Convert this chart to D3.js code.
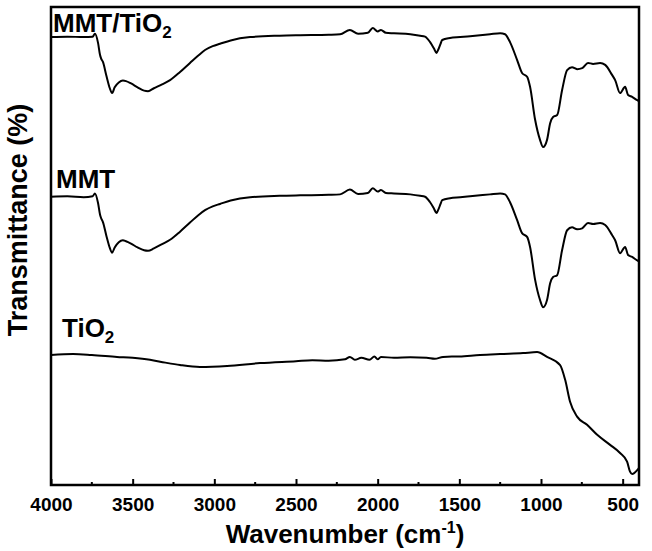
<!DOCTYPE html>
<html>
<head>
<meta charset="utf-8">
<script src="https://cdn.jsdelivr.net/npm/d3@7"></script>
<style>
  body { margin: 0; background: #fff; }
  svg text { font-family: "Liberation Sans", Arial, sans-serif; font-weight: bold; fill: #000; }
</style>
</head>
<body>
<div id="graph"></div>
<script>
// Spectres IR : nombre d'onde (cm-1) et transmittance (unités arbitraires)
var onde_mmt_tio2 = [4000, 3900, 3800, 3745, 3731, 3712, 3700, 3694, 3682, 3660, 3640, 3626, 3610, 3585, 3560, 3541, 3510, 3470, 3430, 3406, 3370, 3320, 3271, 3210, 3149, 3100, 3057, 3010, 2965, 2900, 2781, 2600, 2475, 2300, 2230, 2170, 2120, 2060, 2030, 2000, 1980, 1950, 1900, 1800, 1740, 1710, 1680, 1655, 1640, 1630, 1615, 1605, 1557, 1495, 1434, 1373, 1312, 1250, 1220, 1189, 1146, 1116, 1085, 1067, 1036, 1006, 987, 963, 944, 926, 901, 871, 840, 810, 779, 748, 712, 681, 638, 607, 565, 546, 516, 485, 467, 442, 411, 400];
var trans_mmt_tio2 = [93.7, 93.8, 93.7, 93.8, 94.4, 92.5, 90.0, 89.3, 88.5, 85.5, 83.0, 82.0, 83.2, 84.2, 84.6, 84.5, 84.0, 83.2, 82.5, 82.4, 83.0, 83.8, 84.7, 86.4, 88.3, 89.8, 91.0, 91.8, 92.3, 93.0, 93.7, 94.0, 94.1, 94.2, 94.3, 95.2, 94.4, 94.6, 95.6, 94.9, 95.2, 94.6, 94.5, 94.3, 94.0, 93.8, 92.7, 91.3, 90.4, 91.0, 92.3, 93.1, 93.5, 93.7, 93.9, 94.1, 94.3, 94.5, 94.3, 92.6, 88.9, 86.2, 85.4, 83.3, 76.4, 72.2, 70.7, 72.2, 75.7, 77.0, 77.4, 82.6, 86.8, 87.4, 87.0, 87.2, 88.3, 88.1, 88.3, 87.9, 85.8, 84.7, 82.0, 83.3, 81.6, 81.2, 80.5, 80.3];

var onde_mmt = [4000, 3900, 3800, 3745, 3731, 3712, 3700, 3694, 3682, 3660, 3640, 3626, 3610, 3585, 3560, 3541, 3510, 3470, 3430, 3406, 3370, 3320, 3271, 3210, 3149, 3100, 3057, 3010, 2965, 2900, 2781, 2600, 2475, 2300, 2230, 2170, 2120, 2060, 2030, 2000, 1980, 1950, 1900, 1800, 1740, 1710, 1680, 1655, 1640, 1630, 1615, 1605, 1557, 1495, 1434, 1373, 1312, 1250, 1220, 1189, 1146, 1116, 1085, 1067, 1036, 1006, 987, 963, 944, 926, 901, 871, 840, 810, 779, 748, 712, 681, 638, 607, 565, 546, 516, 485, 467, 442, 411, 400];
var trans_mmt = [60.3, 60.4, 60.2, 60.4, 61.0, 59.0, 56.6, 55.9, 55.0, 52.0, 49.6, 48.6, 49.7, 50.8, 51.2, 51.0, 50.5, 49.7, 49.1, 49.0, 49.5, 50.4, 51.3, 53.0, 54.9, 56.4, 57.5, 58.3, 58.8, 59.5, 60.2, 60.5, 60.6, 60.7, 60.8, 61.8, 60.9, 61.1, 62.1, 61.4, 61.7, 61.1, 61.0, 60.8, 60.5, 60.3, 59.2, 57.8, 56.9, 57.5, 58.8, 59.6, 60.0, 60.2, 60.4, 60.6, 60.8, 61.0, 60.8, 59.1, 55.4, 52.7, 51.9, 49.8, 42.9, 38.7, 37.2, 38.7, 42.2, 43.5, 43.9, 49.1, 53.3, 53.9, 53.5, 53.7, 54.8, 54.6, 54.8, 54.4, 52.3, 51.2, 48.5, 49.8, 48.1, 47.7, 47.0, 46.8];

var onde_tio2 = [4000, 3865, 3750, 3596, 3500, 3394, 3300, 3210, 3088, 2922, 2720, 2500, 2400, 2300, 2200, 2170, 2140, 2100, 2050, 2020, 2000, 1980, 1900, 1800, 1700, 1650, 1600, 1500, 1373, 1250, 1110, 1024, 963, 883, 852, 822, 779, 718, 656, 577, 516, 473, 455, 442, 411, 400];
var trans_tio2 = [27.2, 27.4, 27.2, 26.8, 26.6, 26.2, 25.6, 25.1, 24.7, 24.9, 25.5, 25.9, 26.1, 26.0, 26.3, 26.8, 26.2, 26.6, 26.2, 26.9, 26.3, 26.8, 26.6, 26.7, 26.6, 26.4, 26.8, 26.9, 27.2, 27.4, 27.6, 27.8, 26.8, 25.1, 22.0, 17.4, 14.3, 12.6, 10.5, 8.4, 6.7, 4.9, 2.8, 2.3, 3.1, 3.6];

// Graduations de l'axe X
var graduations = [4000, 3500, 3000, 2500, 2000, 1500, 1000, 500];
var graduations_mineures = [3750, 3250, 2750, 2250, 1750, 1250, 750];

// Définition des marges et de la taille du graphique
var marges = {haut: 7, droit: 13, bas: 66, gauche: 51},
    largeurTotale = 652,
    hauteurTotale = 551,
    largeurInterne = largeurTotale - marges.gauche - marges.droit,
    hauteurInterne = hauteurTotale - marges.haut - marges.bas;

// Echelles (axe X inversé comme en IR)
var echelleX = d3.scaleLinear()
    .domain([4000, 400])
    .range([0, largeurInterne]);

var echelleY = d3.scaleLinear()
    .domain([0, 100])
    .range([hauteurInterne, 0]);

function assembler(ondes, trans) {
  return ondes.map(function(o, i) { return {onde: o, t: trans[i]}; });
}

var series = [
  {nom: "MMT/TiO", indice: "2", donnees: assembler(onde_mmt_tio2, trans_mmt_tio2), lx: 2, ly: 25},
  {nom: "MMT", indice: "", donnees: assembler(onde_mmt, trans_mmt), lx: 5, ly: 181},
  {nom: "TiO", indice: "2", donnees: assembler(onde_tio2, trans_tio2), lx: 11, ly: 330}
];

var graphique = d3.select("#graph").append("svg")
    .attr("width", largeurTotale)
    .attr("height", hauteurTotale)
  .append("g")
    .attr("transform", "translate(" + marges.gauche + "," + marges.haut + ")");

var ligne = d3.line()
    .x(function(d) { return echelleX(d.onde); })
    .y(function(d) { return echelleY(d.t); })
    .curve(d3.curveMonotoneX);

// Courbes
graphique.selectAll(".courbe")
  .data(series)
  .enter()
  .append("path")
  .attr("class", "courbe")
  .attr("d", function(d) { return ligne(d.donnees); })
  .attr("fill", "none")
  .attr("stroke", "#000")
  .attr("stroke-width", 2)
  .attr("stroke-linejoin", "round");

// Etiquettes des courbes
var etiquettes = graphique.selectAll(".etiquette")
  .data(series)
  .enter()
  .append("text")
  .attr("class", "etiquette")
  .attr("x", function(d) { return d.lx; })
  .attr("y", function(d) { return d.ly; })
  .style("font-size", "26px");
etiquettes.append("tspan").text(function(d) { return d.nom; });
etiquettes.append("tspan")
  .attr("dy", 6)
  .style("font-size", "17px")
  .text(function(d) { return d.indice; });

// Axe X avec graduations vers l'intérieur
var axeX = d3.axisBottom(echelleX)
    .tickValues(graduations)
    .tickFormat(d3.format("d"))
    .tickSizeInner(-6)
    .tickSizeOuter(0)
    .tickPadding(13);

var gx = graphique.append("g")
    .attr("class", "x axis")
    .attr("transform", "translate(0," + hauteurInterne + ")")
  .call(axeX);
gx.select(".domain").remove();
gx.selectAll("line").attr("stroke", "#000").attr("stroke-width", 2);
gx.selectAll("text").style("font-size", "19px").attr("dy", "0.71em");

graphique.append("g")
    .attr("transform", "translate(0," + hauteurInterne + ")")
  .selectAll("line")
  .data(graduations_mineures)
  .enter()
  .append("line")
  .attr("x1", function(d) { return echelleX(d); })
  .attr("x2", function(d) { return echelleX(d); })
  .attr("y1", 0)
  .attr("y2", -3)
  .attr("stroke", "#000")
  .attr("stroke-width", 2);

// Cadre
graphique.append("rect")
    .attr("x", 0)
    .attr("y", 0)
    .attr("width", largeurInterne)
    .attr("height", hauteurInterne)
    .attr("fill", "none")
    .attr("stroke", "#000")
    .attr("stroke-width", 2.5);

// Titres des axes
var titreX = graphique.append("text")
    .attr("x", largeurInterne / 2)
    .attr("y", hauteurInterne + 58)
    .style("text-anchor", "middle")
    .style("font-size", "26px");
titreX.append("tspan").text("Wavenumber (cm");
titreX.append("tspan").attr("dy", -10).style("font-size", "16px").text("-1");
titreX.append("tspan").attr("dy", 10).text(")");

graphique.append("text")
    .attr("transform", "rotate(-90)")
    .attr("x", -220 + marges.haut)
    .attr("y", -24)
    .style("text-anchor", "middle")
    .style("font-size", "27px")
    .text("Transmittance (%)");
</script>
</body>
</html>
